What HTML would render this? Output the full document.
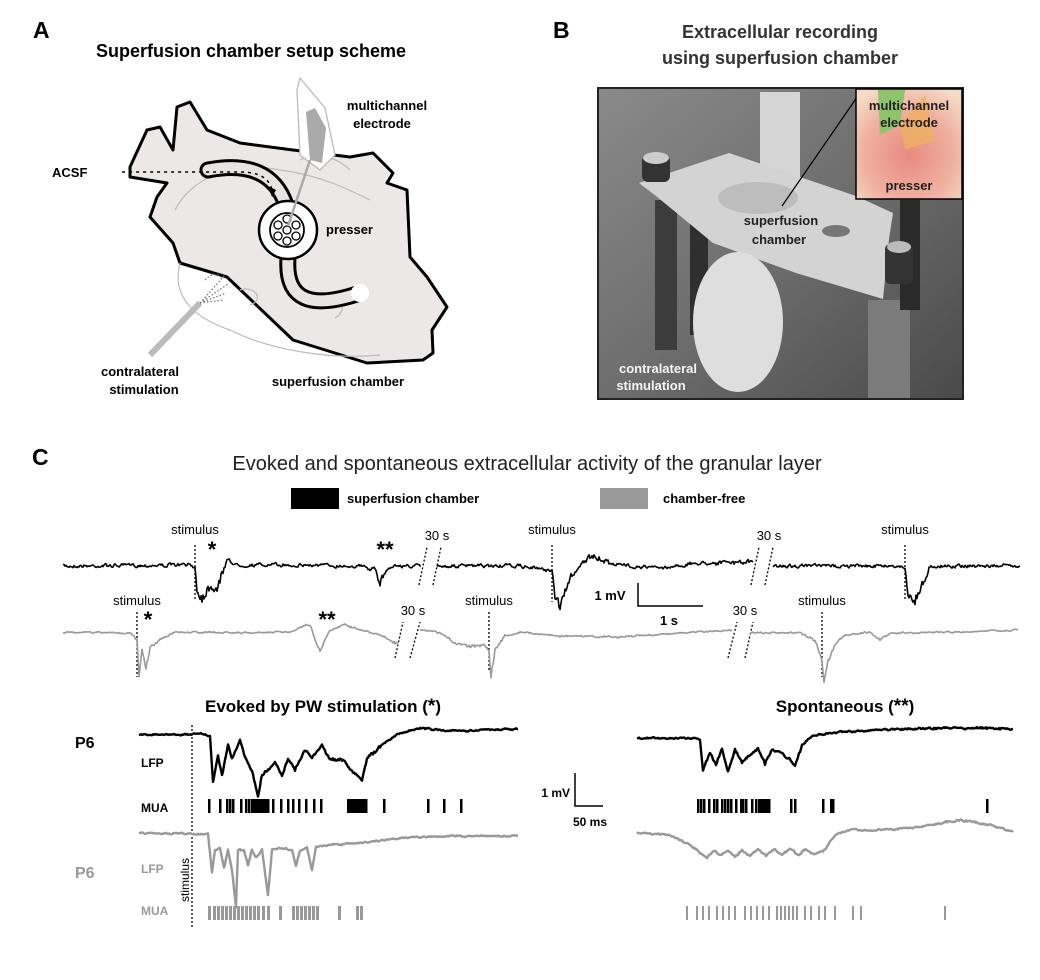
<!DOCTYPE html><html><head><meta charset="utf-8"><style>
body{margin:0;background:#fff;}
svg{display:block;font-family:"Liberation Sans",Arial,sans-serif;}
.b{font-weight:bold}
</style></head><body>
<svg id="s" width="1040" height="980" viewBox="0 0 1040 980" xmlns="http://www.w3.org/2000/svg">
<defs>
<linearGradient id="ph" x1="0" y1="0" x2="1" y2="1"><stop offset="0" stop-color="#8a8a8a"/><stop offset="0.5" stop-color="#6e6e6e"/><stop offset="1" stop-color="#4a4a4a"/></linearGradient>
<radialGradient id="ins" cx="0.5" cy="0.6" r="0.7"><stop offset="0" stop-color="#e88a80"/><stop offset="0.6" stop-color="#efb0a0"/><stop offset="1" stop-color="#f6dcc8"/></radialGradient>
</defs>
<!-- A -->
<text x="33" y="38" class="b" font-size="23">A</text>
<text x="251" y="57" class="b" font-size="18" text-anchor="middle">Superfusion chamber setup scheme</text>
<path d="M130,167 L147,130 L160,127 L173,150 L177,107 L190,102 L207,130 L240,143 L293,150 L350,157 L373,153 L393,173 L387,183 L407,190 L410,257 L427,277 L447,307 L432,330 L433,353 L423,360 L367,363 L293,340 L227,277 L180,263 L173,243 L150,217 L157,197 L167,183 L130,177 Z" fill="#ebe8e7" stroke="#000" stroke-width="3" stroke-linejoin="round"/>
<g fill="none" stroke="#bbb" stroke-width="1.2">
<path d="M180,263 C170,300 200,320 230,330 C270,350 330,360 380,355"/>
<path d="M175,210 C190,180 230,160 280,170 C320,175 350,190 370,200"/>
<path d="M240,290 C255,285 265,300 250,305"/><path d="M320,300 C340,290 350,310 335,318"/>
<path d="M300,160 C320,150 340,160 350,170"/>
</g>
<path d="M208,170 Q270,158 286,205 L288,258 C285,300 310,310 360,293" fill="none" stroke="#000" stroke-width="17" stroke-linecap="round"/>
<path d="M208,170 Q270,158 286,205 L288,258 C285,300 310,310 360,293" fill="none" stroke="#e7e4e3" stroke-width="11" stroke-linecap="round"/>
<circle cx="288" cy="230" r="29" fill="#fff" stroke="#000" stroke-width="2.5"/>
<circle cx="360" cy="293" r="9" fill="#fff"/>
<circle cx="287" cy="230" r="17" fill="#fff" stroke="#000" stroke-width="1.8"/>
<g fill="none" stroke="#000" stroke-width="1.3"><circle cx="287" cy="219" r="4"/><circle cx="287" cy="230" r="4"/><circle cx="287" cy="241" r="4"/><circle cx="278" cy="225" r="4"/><circle cx="296" cy="225" r="4"/><circle cx="278" cy="236" r="4"/><circle cx="296" cy="236" r="4"/></g>
<path d="M122,172 Q200,172 240,172 Q268,172 272,190" fill="none" stroke="#000" stroke-width="1.5" stroke-dasharray="3,4"/>
<path d="M268,186 L276,190 L272,197 Z" fill="#000"/>
<path d="M297,90 L300,78 L325,108 L335,155 L320,170 L300,155 Z" fill="#fff" stroke="#bbb" stroke-width="1.3"/>
<path d="M306,112 L315,108 L326,128 L322,163 L310,160 Z" fill="#aaa"/>
<line x1="310" y1="160" x2="288" y2="226" stroke="#aaa" stroke-width="2.5"/>
<line x1="150" y1="355" x2="200" y2="303" stroke="#bbb" stroke-width="6"/>
<g fill="none" stroke="#777" stroke-width="1.3" stroke-dasharray="1.5,2"><path d="M200,303 L225,275"/><path d="M200,303 L228,284"/><path d="M200,303 L226,293"/><path d="M200,303 L223,300"/><path d="M205,280 Q215,270 222,278"/></g>
<text x="52" y="177" class="b" font-size="13">ACSF</text>
<text x="387" y="110" class="b" font-size="13" text-anchor="middle">multichannel</text>
<text x="382" y="128" class="b" font-size="13" text-anchor="middle">electrode</text>
<text x="326" y="234" class="b" font-size="13">presser</text>
<text x="140" y="376" class="b" font-size="13" text-anchor="middle">contralateral</text>
<text x="144" y="394" class="b" font-size="13" text-anchor="middle">stimulation</text>
<text x="338" y="386" class="b" font-size="13" text-anchor="middle">superfusion chamber</text>
<!-- B -->
<text x="553" y="38" class="b" font-size="23">B</text>
<text x="780" y="38" class="b" font-size="18" text-anchor="middle" fill="#333">Extracellular recording</text>
<text x="780" y="64" class="b" font-size="18" text-anchor="middle" fill="#333">using superfusion chamber</text>
<rect x="598" y="88" width="365" height="311" fill="url(#ph)" stroke="#222" stroke-width="2"/>
<rect x="655" y="200" width="22" height="150" fill="#3c3c3c"/>
<rect x="690" y="195" width="18" height="140" fill="#2f2f2f"/>
<rect x="868" y="300" width="42" height="98" fill="#7b7b7b"/>
<rect x="900" y="200" width="20" height="110" fill="#2a2a2a"/>
<rect x="760" y="92" width="40" height="105" fill="#d6d6d6"/>
<path d="M639,183 L729,153 L856,196 L893,213 L889,239 L883,299 L796,273 L713,243 L656,196 Z" fill="#d3d3d3"/>
<ellipse cx="758" cy="198" rx="40" ry="16" fill="#bdbdbd"/>
<ellipse cx="836" cy="231" rx="14" ry="6" fill="#777"/>
<rect x="642" y="155" width="28" height="27" rx="6" fill="#333"/><ellipse cx="656" cy="158" rx="13" ry="6" fill="#ccc"/>
<rect x="885" y="244" width="28" height="40" rx="5" fill="#333"/><ellipse cx="899" cy="247" rx="12" ry="6" fill="#bbb"/>
<ellipse cx="738" cy="322" rx="45" ry="70" fill="#dedede"/>
<line x1="782" y1="206" x2="862" y2="90" stroke="#000" stroke-width="1.2"/>
<rect x="856" y="89" width="106" height="110" fill="url(#ins)" stroke="#000" stroke-width="1.5"/>
<path d="M878,90 L905,90 L900,125 L880,135 Z" fill="#8ec46a"/>
<path d="M900,125 L925,95 L935,140 L905,150 Z" fill="#f0b060" opacity="0.8"/>
<text x="909" y="110" class="b" font-size="13" text-anchor="middle" fill="#222">multichannel</text>
<text x="909" y="127" class="b" font-size="13" text-anchor="middle" fill="#222">electrode</text>
<text x="909" y="190" class="b" font-size="13" text-anchor="middle" fill="#222">presser</text>
<text x="781" y="225" class="b" font-size="13" text-anchor="middle" fill="#222">superfusion</text>
<text x="779" y="244" class="b" font-size="13" text-anchor="middle" fill="#222">chamber</text>
<text x="658" y="373" class="b" font-size="13" text-anchor="middle" fill="#f4f4f4">contralateral</text>
<text x="651" y="390" class="b" font-size="13" text-anchor="middle" fill="#f4f4f4">stimulation</text>
<!-- C -->
<text x="32" y="465" class="b" font-size="23">C</text>
<text x="527" y="470" font-size="20" text-anchor="middle" fill="#222">Evoked and spontaneous extracellular activity of the granular layer</text>
<rect x="291" y="488" width="48" height="21" fill="#000"/>
<text x="347" y="503" class="b" font-size="13">superfusion chamber</text>
<rect x="600" y="488" width="48" height="21" fill="#999"/>
<text x="663" y="503" class="b" font-size="13">chamber-free</text>
<g font-size="13" text-anchor="middle">
<text x="195" y="534">stimulus</text><text x="552" y="534">stimulus</text><text x="905" y="534">stimulus</text>
<text x="137" y="605">stimulus</text><text x="489" y="605">stimulus</text><text x="822" y="605">stimulus</text>
<text x="437" y="540">30 s</text><text x="769" y="540">30 s</text>
<text x="413" y="615">30 s</text><text x="745" y="615">30 s</text>
</g>
<g font-size="22" class="b" text-anchor="middle"><text x="212" y="557">*</text><text x="385" y="557">**</text><text x="148" y="627">*</text><text x="327" y="627">**</text></g>
<g stroke="#000" stroke-width="1.3" stroke-dasharray="2,2">
<line x1="195" y1="545" x2="195" y2="600"/><line x1="552" y1="545" x2="552" y2="602"/><line x1="905" y1="545" x2="905" y2="600"/>
<line x1="137" y1="612" x2="137" y2="677"/><line x1="489" y1="612" x2="489" y2="672"/><line x1="822" y1="612" x2="822" y2="677"/>
<line x1="419" y1="585" x2="427" y2="547"/><line x1="433" y1="585" x2="441" y2="547"/>
<line x1="751" y1="585" x2="759" y2="547"/><line x1="765" y1="585" x2="773" y2="547"/>
<line x1="395" y1="658" x2="403" y2="622"/><line x1="410" y1="658" x2="420" y2="622"/>
<line x1="728" y1="658" x2="737" y2="622"/><line x1="745" y1="658" x2="753" y2="622"/>
<line x1="192" y1="725" x2="192" y2="928"/>
</g>
<path d="M638,583 L638,606 L703,606" fill="none" stroke="#000" stroke-width="1.5"/>
<text x="610" y="600" class="b" font-size="13" text-anchor="middle">1 mV</text><text x="669" y="625" class="b" font-size="13" text-anchor="middle">1 s</text>
<text x="323" y="712" class="b" font-size="17" text-anchor="middle">Evoked by PW stimulation (<tspan font-size="19">*</tspan>)</text>
<text x="845" y="712" class="b" font-size="17" text-anchor="middle">Spontaneous (<tspan font-size="19">**</tspan>)</text>
<text x="75" y="748" class="b" font-size="16">P6</text>
<text x="141" y="767" class="b" font-size="12">LFP</text>
<text x="141" y="812" class="b" font-size="12">MUA</text>
<text x="75" y="878" class="b" font-size="16" fill="#999">P6</text>
<text x="141" y="873" class="b" font-size="12" fill="#999">LFP</text>
<text x="141" y="915" class="b" font-size="12" fill="#999">MUA</text>
<text transform="translate(189,880) rotate(-90)" font-size="12" text-anchor="middle">stimulus</text>
<path d="M575,773 L575,806 L603,806" fill="none" stroke="#000" stroke-width="1.5"/>
<text x="570" y="797" class="b" font-size="12" text-anchor="end">1 mV</text><text x="590" y="826" class="b" font-size="12" text-anchor="middle">50 ms</text>
<g id="tr"></g>
</svg>
<script>
(function(){
var seed=7;function r(){seed=(seed*16807)%2147483647;return seed/2147483647-0.5;}
var g=document.getElementById('tr');var NS='http://www.w3.org/2000/svg';
function kp(pts,base,n0,n1,col,w){
 var d='',p=0;
 for(var i=0;i<pts.length-1;i++){
  var a=pts[i],b=pts[i+1];
  for(var x=a[0];x<b[0];x+=1){
   var t=(x-a[0])/(b[0]-a[0]);var y=a[1]+(b[1]-a[1])*t;
   p=p*0.5+r()*n0;
   var dev=Math.min(1,Math.abs(y-base)/15);
   var v=y+p+r()*n1*dev;
   d+=(d?'L':'M')+x+','+v.toFixed(1);
  }
 }
 var l=pts[pts.length-1];d+='L'+l[0]+','+l[1];
 var pa=document.createElementNS(NS,'path');
 pa.setAttribute('d',d);pa.setAttribute('fill','none');pa.setAttribute('stroke',col);pa.setAttribute('stroke-width',w);pa.setAttribute('stroke-linejoin','round');g.appendChild(pa);
}
function ticks(xs,y,h,col,wd){xs.forEach(function(x){var re=document.createElementNS(NS,'rect');re.setAttribute('x',x);re.setAttribute('y',y);re.setAttribute('width',wd||2.5);re.setAttribute('height',h);re.setAttribute('fill',col);g.appendChild(re);});}
var K='#000',G='#999';
// top black
kp([[63,566],[190,565],[195,567],[197,590],[203,598],[210,585],[215,592],[222,575],[228,558],[235,565],[300,565],[360,566],[375,570],[380,583],[385,572],[392,566],[421,566]],566,3,8,K,1.6);
kp([[437,566],[520,566],[540,569],[552,570],[555,598],[560,606],[566,588],[572,575],[580,565],[590,557],[620,565],[660,568],[700,563],[753,562]],566,3,8,K,1.6);
kp([[773,566],[900,566],[905,568],[908,595],[915,600],[922,586],[930,566],[1020,566]],566,3,8,K,1.6);
// top gray
kp([[63,632],[130,633],[137,640],[139,678],[142,650],[146,668],[150,648],[160,640],[175,632],[250,633],[290,632],[300,627],[310,624],[315,640],[320,650],[325,640],[330,630],[345,624],[360,630],[380,635],[390,640],[398,645]],632,1.4,3,G,1.6);
kp([[420,630],[440,633],[455,643],[470,646],[485,645],[489,650],[491,676],[495,650],[505,636],[520,632],[560,636],[620,637],[680,633],[732,630]],632,1.4,3,G,1.6);
kp([[750,633],[800,633],[815,640],[822,660],[824,682],[828,660],[835,645],[845,635],[870,632],[880,640],[890,633],[960,632],[1018,630]],632,1.4,3,G,1.6);
// bottom left black
kp([[139,735],[205,734],[210,736],[213,782],[218,755],[222,775],[228,745],[232,760],[240,740],[245,758],[252,770],[258,797],[262,775],[268,770],[275,762],[282,775],[288,758],[295,770],[305,750],[312,758],[322,745],[330,760],[343,760],[350,770],[362,780],[367,758],[375,752],[385,742],[400,733],[420,728],[440,730],[460,731],[480,730],[518,729]],734,1.4,2,K,2.4);
// bottom left gray
kp([[139,833],[208,834],[212,873],[215,850],[220,848],[224,868],[228,850],[232,870],[236,907],[238,850],[244,850],[248,865],[252,850],[256,858],[262,850],[268,895],[272,850],[280,848],[292,850],[296,866],[300,850],[307,848],[312,870],[316,847],[330,845],[360,843],[400,838],[450,836],[518,836]],836,1.2,1,G,2.4);
// right black
kp([[637,738],[695,738],[700,740],[703,770],[710,752],[716,765],[722,748],[728,772],[735,750],[742,762],[750,755],[758,748],[765,764],[772,750],[780,752],[790,760],[795,766],[802,745],[812,736],[830,733],[860,731],[900,729],[950,728],[980,728],[1013,729]],736,1.4,2,K,2.4);
// right gray
kp([[637,833],[670,835],[690,845],[707,858],[714,850],[720,856],[728,850],[735,857],[742,850],[750,856],[758,849],[766,856],[774,849],[782,855],[790,849],[798,855],[806,849],[814,855],[825,850],[835,835],[850,830],[880,830],[910,828],[930,825],[960,820],[990,825],[1013,832]],833,1.4,1,G,2.4);
ticks([208,219,226,229,232,240,245,248,251,253,255,257,259,261,263,265,267,272,280,287,292,298,305,313,320,347,349,351,353,355,357,359,361,363,365,383,427,443,460],799,14,K);
ticks([697,700,703,708,713,716,721,724,727,730,735,740,742,745,751,755,758,760,762,764,766,768,790,794,822,830,832,986],799,14,K);
ticks([208,213,217,221,225,229,233,237,241,245,249,253,257,262,267,279,292,296,300,304,308,312,316,338,356,360],906,14,G,3);
ticks([686,696,702,708,716,722,728,734,744,750,756,762,768,776,780,784,788,792,796,804,810,818,824,834,852,860,944],906,14,G,2);
})();
</script>
</body></html>
